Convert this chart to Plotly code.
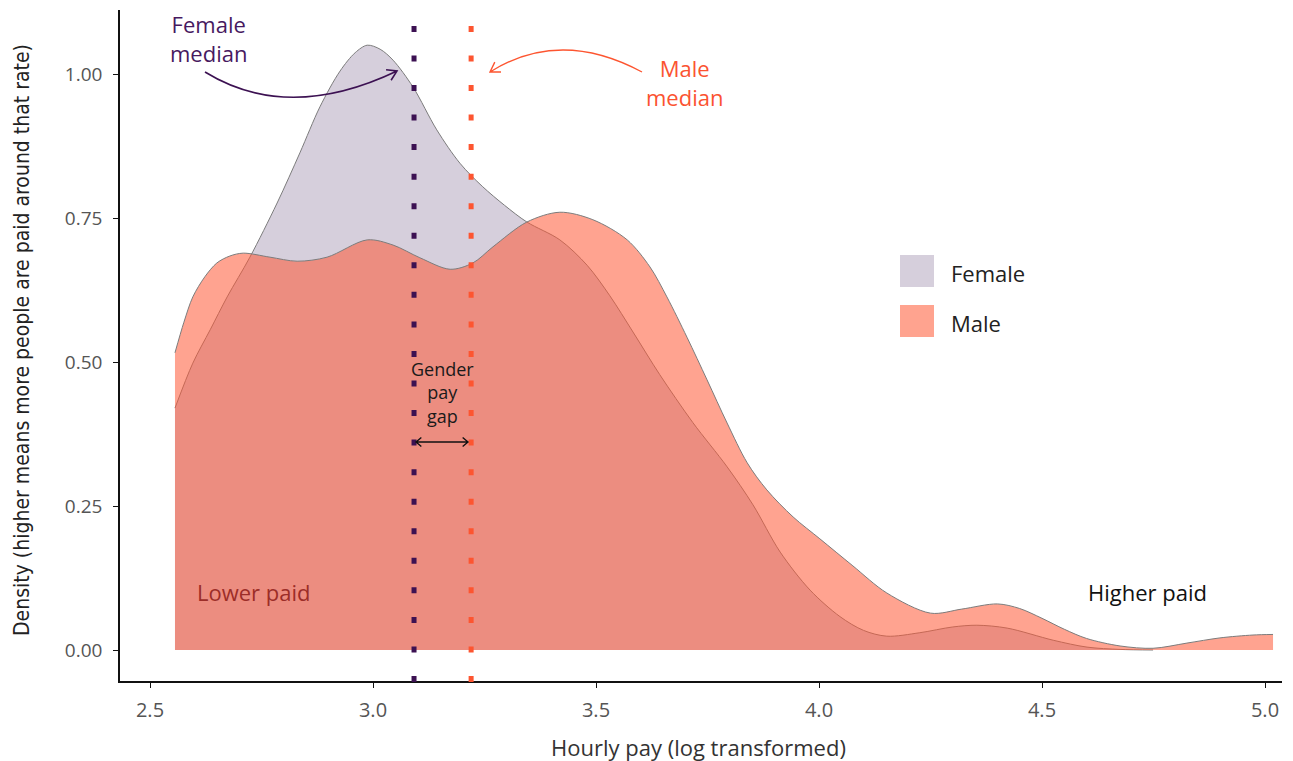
import math
import plotly.graph_objects as go

# ---------------- data ----------------
pay_female = [2.556, 2.596, 2.635, 2.673, 2.724, 2.785, 2.836, 2.881, 2.926, 2.960,
              2.987, 3.016, 3.045, 3.090, 3.143, 3.195, 3.245, 3.295, 3.345, 3.419,
              3.480, 3.531, 3.583, 3.643, 3.717, 3.794, 3.852, 3.913, 3.980, 4.047,
              4.100, 4.152, 4.226, 4.300, 4.354, 4.422, 4.525, 4.601, 4.675, 4.749]
dens_female = [0.420, 0.498, 0.556, 0.613, 0.682, 0.776, 0.863, 0.943, 1.005, 1.037,
               1.050, 1.043, 1.024, 0.977, 0.903, 0.845, 0.805, 0.772, 0.743, 0.712,
               0.668, 0.615, 0.552, 0.478, 0.395, 0.318, 0.252, 0.170, 0.104, 0.058,
               0.034, 0.024, 0.030, 0.040, 0.043, 0.038, 0.017, 0.005, 0.001, 0.000]

pay_male = [2.556, 2.576, 2.596, 2.623, 2.650, 2.679, 2.709, 2.769, 2.830, 2.897,
            2.987, 3.045, 3.105, 3.173, 3.224, 3.269, 3.345, 3.419, 3.493, 3.570,
            3.621, 3.659, 3.704, 3.749, 3.794, 3.839, 3.883, 3.942, 4.002, 4.076,
            4.152, 4.250, 4.320, 4.400, 4.450, 4.500, 4.550, 4.600, 4.675, 4.749,
            4.825, 4.899, 4.973, 5.018]
dens_male = [0.516, 0.569, 0.613, 0.648, 0.672, 0.684, 0.689, 0.682, 0.675, 0.682,
             0.712, 0.703, 0.681, 0.661, 0.672, 0.700, 0.743, 0.760, 0.747, 0.712,
             0.665, 0.613, 0.543, 0.469, 0.394, 0.325, 0.278, 0.231, 0.193, 0.146,
             0.099, 0.064, 0.071, 0.080, 0.072, 0.055, 0.036, 0.020, 0.007, 0.003,
             0.012, 0.021, 0.026, 0.027]

median_female = 3.092
median_male = 3.220

x_ticks = [2.5, 3.0, 3.5, 4.0, 4.5, 5.0]
x_tick_labels = ["2.5", "3.0", "3.5", "4.0", "4.5", "5.0"]
y_ticks = [0.0, 0.25, 0.5, 0.75, 1.0]
y_tick_labels = ["0.00", "0.25", "0.50", "0.75", "1.00"]

# ---------------- styling ----------------
FONT = "'Open Sans', Lato, sans-serif"
COND = "'Liberation Sans Narrow', 'DejaVu Sans Condensed', Roboto, sans-serif"
FEMALE_FILL = "#d6cfdc"
MALE_FILL = "rgba(255,88,53,0.55)"
MALE_LEGEND = "#ffa38f"
OUTLINE = "#7c7c7c"
FEMALE_DARK = "#3c1152"
MALE_DARK = "#fd5530"


# helpers that place annotation geometry relative to the plot area
def X(px):
    return 2.5 + (px - 150) / 446.0


def Y(py):
    return (650 - py) / 576.0


def pt(p):
    return f"{X(p[0]):.5f},{Y(p[1]):.5f}"


def head(tip, frm, L=10, ang=35):
    dx, dy = frm[0] - tip[0], frm[1] - tip[1]
    n = math.hypot(dx, dy)
    ux, uy = dx / n, dy / n
    arms = []
    for s in (1, -1):
        a = math.radians(s * ang)
        rx = ux * math.cos(a) - uy * math.sin(a)
        ry = ux * math.sin(a) + uy * math.cos(a)
        arms.append((tip[0] + L * rx, tip[1] + L * ry))
    return f" M {pt(arms[0])} L {pt(tip)} L {pt(arms[1])}"


fig = go.Figure()

fig.add_trace(go.Scatter(
    x=pay_female, y=dens_female, mode="lines", fill="tozeroy",
    fillcolor=FEMALE_FILL, name="Female",
    line=dict(color=OUTLINE, width=1, shape="spline", smoothing=0.9),
    showlegend=False, hoverinfo="skip"))

fig.add_trace(go.Scatter(
    x=pay_male, y=dens_male, mode="lines", fill="tozeroy",
    fillcolor=MALE_FILL, name="Male",
    line=dict(color=OUTLINE, width=1, shape="spline", smoothing=0.9),
    showlegend=False, hoverinfo="skip"))

shapes = []
# median lines
for xm, col in ((median_female, FEMALE_DARK), (median_male, MALE_DARK)):
    shapes.append(dict(type="line", xref="x", yref="paper", x0=xm, x1=xm,
                       y0=-0.0015, y1=0.979,
                       line=dict(color=col, width=5, dash="6px,23.55px")))

# curved arrow to female median
p0, p1, p2 = (205, 72), (288, 123), (397, 71)
shapes.append(dict(type="path", xref="x", yref="y",
                   path=f"M {pt(p0)} Q {pt(p1)} {pt(p2)}" + head(p2, p1, L=11, ang=32),
                   line=dict(color=FEMALE_DARK, width=1.6)))
# curved arrow to male median
q0, q1, q2 = (642, 72), (560, 28), (490, 72)
shapes.append(dict(type="path", xref="x", yref="y",
                   path=f"M {pt(q0)} Q {pt(q1)} {pt(q2)}" + head(q2, q1, L=11, ang=32),
                   line=dict(color=MALE_DARK, width=1.4)))
# gender pay gap double arrow
a0, a1 = (416, 442), (468, 442)
shapes.append(dict(type="path", xref="x", yref="y",
                   path=f"M {pt(a0)} L {pt(a1)}" + head(a1, a0, L=7, ang=40) + head(a0, a1, L=7, ang=40),
                   line=dict(color="#111111", width=1.4)))

# manual legend squares
shapes.append(dict(type="rect", xref="x", yref="y", x0=X(900), x1=X(934), y0=Y(287), y1=Y(255),
                   fillcolor=FEMALE_FILL, line=dict(width=0)))
shapes.append(dict(type="rect", xref="x", yref="y", x0=X(900), x1=X(934), y0=Y(337), y1=Y(305),
                   fillcolor=MALE_LEGEND, line=dict(width=0)))

annotations = [
    dict(x=X(208), y=Y(38), text="Female<br>median", showarrow=False,
         font=dict(family=FONT, size=22, color="#47195f")),
    dict(x=X(684), y=Y(82), text="Male<br>median", showarrow=False,
         font=dict(family=FONT, size=22, color="#fb5331")),
    dict(x=X(442), y=Y(392), text="Gender<br>pay<br>gap", showarrow=False,
         font=dict(family=FONT, size=18, color="#1a1a1a")),
    dict(x=X(254), y=Y(592), text="Lower paid", showarrow=False,
         font=dict(family=FONT, size=22, color="#9c2d28")),
    dict(x=X(1147), y=Y(592), text="Higher paid", showarrow=False,
         font=dict(family=FONT, size=22, color="#111111")),
    dict(x=X(949), y=Y(273), text="Female", showarrow=False, xanchor="left",
         font=dict(family=FONT, size=22, color="#222222")),
    dict(x=X(949), y=Y(323), text="Male", showarrow=False, xanchor="left",
         font=dict(family=FONT, size=22, color="#222222")),
    dict(xref="paper", yref="paper", x=(698 - 120) / 1162, y=(681 - 747) / 671,
         xanchor="center", yanchor="middle",
         text="Hourly pay (log transformed)", showarrow=False,
         font=dict(family=FONT, size=22, color="#333333")),
    dict(xref="paper", yref="paper", x=(22 - 120) / 1162, y=(681 - 340) / 671,
         xanchor="center", yanchor="middle",
         text="Density (higher means more people are paid around that rate)",
         textangle=-90, showarrow=False,
         font=dict(family=COND, size=21, color="#222222")),
]

# the page body adds an 8px offset, so the figure is shrunk to keep the
# plotting area where the reference has it
fig.update_layout(
    width=1285, height=753,
    margin=dict(l=112, r=11, t=2, b=80),
    paper_bgcolor="white", plot_bgcolor="white",
    shapes=shapes, annotations=annotations,
    showlegend=False,
    xaxis=dict(range=[X(120), X(1282)], tickvals=x_ticks, ticktext=x_tick_labels,
               showgrid=False, zeroline=False, showline=True, linecolor="#111111", linewidth=1.5,
               ticks="outside", ticklen=5, tickcolor="#111111", tickwidth=1,
               tickfont=dict(family=FONT, size=20, color="#555555"), ticklabelstandoff=5),
    yaxis=dict(range=[Y(681), Y(10)], tickvals=y_ticks, ticktext=y_tick_labels,
               showgrid=False, zeroline=False, showline=True, linecolor="#111111", linewidth=1.5,
               ticks="outside", ticklen=5, tickcolor="#111111", tickwidth=1,
               tickfont=dict(family=FONT, size=19, color="#555555"), ticklabelstandoff=7),
)

fig.write_html("out.html")
